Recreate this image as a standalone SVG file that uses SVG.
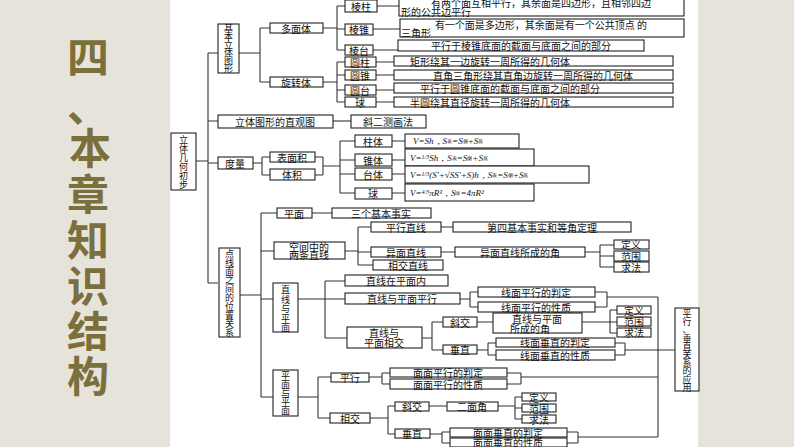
<svg xmlns="http://www.w3.org/2000/svg" width="794" height="447" viewBox="0 0 794 447">
<style>
.b{fill:#fff;stroke:#222;stroke-width:1.1}
.t{font-family:"Noto Sans CJK SC","Liberation Serif",serif;font-size:10px;fill:#111;text-anchor:middle;dominant-baseline:central}
.v{font-family:"Noto Sans CJK SC","Liberation Serif",serif;font-size:9px;fill:#111;text-anchor:middle}
.f{font-family:"Liberation Serif",serif;font-size:9px;fill:#111;font-style:italic;dominant-baseline:central}
.s{font-size:5px;font-style:normal}
.title{font-family:"Noto Sans CJK SC","Liberation Sans",sans-serif;font-size:42px;font-weight:bold;fill:#7b6f3c;text-anchor:middle}
#conn path{fill:none;stroke:#333;stroke-width:1.1}
</style>
<rect width="794" height="447" fill="#fff"/>
<rect x="0" y="0" width="170" height="447" fill="#e6e4da"/>
<rect x="698" y="0" width="96" height="447" fill="#e6e4da"/>
<g id="title">
<text class="title" x="88" y="73">四</text>
<text class="title" x="88" y="122" font-size="30">、</text>
<text class="title" x="90" y="164">本</text>
<text class="title" x="88" y="210">章</text>
<text class="title" x="88" y="256">知</text>
<text class="title" x="88" y="302">识</text>
<text class="title" x="88" y="347">结</text>
<text class="title" x="88" y="392">构</text>
</g>
<g id="conn">
<path d="M196 161H208M208 53V283M208 53H218M208 121H218M208 163H218M208 283H218"/>
<path d="M239 53H260M260 28V82M260 28H270M260 82H270"/>
<path d="M323 28H337M337 6V50M337 6H345M337 29H345M337 50H345"/>
<path d="M377 6H399M373 29H400M373 50H398"/>
<path d="M323 82H337M337 62V102M337 62H345M337 75H345M337 90H345M337 102H345"/>
<path d="M376 62H394M376 75H394M376 90H394M376 102H394"/>
<path d="M333 121H351"/>
<path d="M253 163H262M262 157V175M262 157H270M262 175H270M315 157H323M315 175H323M323 157V175M323 166H340M340 141V193M340 141H355M340 160H355M340 174H355M340 193H355"/>
<path d="M392 141H405M392 160H405M392 174H405M392 193H405"/>
<path d="M240 295H261M261 213V397M261 213H277M261 251H274M261 299H273M261 397H273"/>
<path d="M312 213H332M345 251H358M358 227V265M358 227H371M358 252H371M358 265H373M441 227H453M441 252H455M585 252H600M600 245V267M600 245H614M600 256H614M600 267H614"/>
<path d="M298 299H325M325 281V338M325 281H345M325 299H345M325 338H347"/>
<path d="M460 299H470M470 292V307M470 292H478M470 307H478M595 292H607M595 307H607M607 292V307M607 297H658M658 297V437M658 350H675"/>
<path d="M422 338H432M432 322V350M432 322H443M432 350H443M477 322H493M582 322H610M610 310V333M610 310H617M610 322H617M610 333H617"/>
<path d="M477 350H488M488 343V355M488 343H496M488 355H496M615 343H625M615 355H625M625 343V355M625 350H658"/>
<path d="M298 397H318M318 377V418M318 377H331M318 418H330M369 377H382M382 373V384M382 373H390M382 384H390M507 373H521M507 384H521M521 373V384M521 377H658"/>
<path d="M370 418H388M388 406V434M388 406H395M388 434H395M429 406H447M498 406H515M515 397V419M515 397H522M515 408H522M515 419H522"/>
<path d="M430 434H442M442 432V443M442 432H450M442 443H450M567 432H578M567 443H578M578 432V443M578 437H658"/>
</g>
<g id="root"><rect class="b" x="171" y="133" width="25" height="57"/><text class="v" font-size="8.5"><tspan x="183.5" y="143">立</tspan><tspan x="183.5" dy="9">体</tspan><tspan x="183.5" dy="9">几</tspan><tspan x="183.5" dy="9">何</tspan><tspan x="183.5" dy="9">初</tspan><tspan x="183.5" dy="9">步</tspan></text></g>
<g id="jbltxt"><rect class="b" x="218" y="24" width="21" height="49"/><text class="v" font-size="7.5"><tspan x="228.5" y="32">基</tspan><tspan x="228.5" dy="8">本</tspan><tspan x="228.5" dy="8">立</tspan><tspan x="228.5" dy="8">体</tspan><tspan x="228.5" dy="8">图</tspan><tspan x="228.5" dy="8">形</tspan></text></g>
<g id="dmt"><rect class="b" x="270" y="23" width="53" height="10"/><text class="t" x="296" y="28">多面体</text></g>
<g id="xzt"><rect class="b" x="270" y="77" width="53" height="10"/><text class="t" x="296" y="82">旋转体</text></g>
<g id="lz"><rect class="b" x="345" y="0" width="32" height="12"/><text class="t" x="361" y="6">棱柱</text></g>
<g id="lzh"><rect class="b" x="345" y="24" width="28" height="11"/><text class="t" x="359" y="29.5">棱锥</text></g>
<g id="lt"><rect class="b" x="345" y="45" width="28" height="10"/><text class="t" x="359" y="50">棱台</text></g>
<g id="lzd"><rect class="b" x="399" y="-3" width="285" height="19"/><text class="t" x="541" y="2">有两个面互相平行，其余面是四边形，且相邻四边</text><text class="t" x="436" y="11">形的公共边平行</text></g>
<g id="lzhd"><rect class="b" x="400" y="19" width="284" height="18"/><text class="t" x="541" y="24">有一个面是多边形，其余面是有一个公共顶点 的</text><text class="t" x="416" y="32">三角形</text></g>
<g id="ltd"><rect class="b" x="398" y="40" width="246" height="11"/><text class="t" x="521" y="45.5">平行于棱锥底面的截面与底面之间的部分</text></g>
<g id="yz"><rect class="b" x="345" y="57" width="31" height="10"/><text class="t" x="360" y="62">圆柱</text></g>
<g id="yzh"><rect class="b" x="345" y="70" width="31" height="10"/><text class="t" x="360" y="75">圆锥</text></g>
<g id="yt"><rect class="b" x="345" y="85" width="31" height="10"/><text class="t" x="360" y="90">圆台</text></g>
<g id="q"><rect class="b" x="345" y="97" width="31" height="10"/><text class="t" x="360" y="102">球</text></g>
<g id="yzd"><rect class="b" x="394" y="56" width="279" height="10"/><text class="t" x="490" y="61">矩形绕其一边旋转一周所得的几何体</text></g>
<g id="yzhd"><rect class="b" x="394" y="70" width="279" height="10"/><text class="t" x="533" y="75">直角三角形绕其直角边旋转一周所得的几何体</text></g>
<g id="ytd"><rect class="b" x="394" y="83" width="279" height="10"/><text class="t" x="510" y="88">平行于圆锥底面的截面与底面之间的部分</text></g>
<g id="qd"><rect class="b" x="394" y="97" width="279" height="10"/><text class="t" x="490" y="102">半圆绕其直径旋转一周所得的几何体</text></g>
<g id="zgt"><rect class="b" x="218" y="115" width="115" height="13"/><text class="t" x="275" y="121.5">立体图形的直观图</text></g>
<g id="xec"><rect class="b" x="351" y="115" width="75" height="13"/><text class="t" x="388" y="121.5">斜二测画法</text></g>
<g id="dl"><rect class="b" x="218" y="157" width="35" height="12"/><text class="t" x="235" y="163">度量</text></g>
<g id="bmj"><rect class="b" x="270" y="152" width="45" height="10"/><text class="t" x="292" y="157">表面积</text></g>
<g id="tj"><rect class="b" x="270" y="169" width="45" height="11"/><text class="t" x="292" y="174.5">体积</text></g>
<g id="zt"><rect class="b" x="355" y="135" width="37" height="12"/><text class="t" x="373" y="141">柱体</text></g>
<g id="zht"><rect class="b" x="355" y="154" width="37" height="12"/><text class="t" x="373" y="160">锥体</text></g>
<g id="tt"><rect class="b" x="355" y="168" width="37" height="12"/><text class="t" x="373" y="174">台体</text></g>
<g id="qt"><rect class="b" x="355" y="188" width="37" height="11"/><text class="t" x="373" y="193.5">球</text></g>
<g id="f1"><rect class="b" x="405" y="134" width="114" height="14"/><text class="f" x="413" y="141">V=Sh，S<tspan class="s">表</tspan>=S<tspan class="s">侧</tspan>+S<tspan class="s">底</tspan></text></g>
<g id="f2"><rect class="b" x="405" y="149" width="129" height="17"/><text class="f" x="410" y="158">V=<tspan font-size="6" dy="-1">1/3</tspan><tspan dy="1">Sh，S</tspan><tspan class="s">表</tspan>=S<tspan class="s">侧</tspan>+S<tspan class="s">底</tspan></text></g>
<g id="f3"><rect class="b" x="405" y="166" width="184" height="17"/><text class="f" x="410" y="175">V=<tspan font-size="6" dy="-1">1/3</tspan><tspan dy="1">(S′+√SS′+S)h，S</tspan><tspan class="s">表</tspan>=S<tspan class="s">侧</tspan>+S<tspan class="s">底</tspan></text></g>
<g id="f4"><rect class="b" x="405" y="184" width="129" height="17"/><text class="f" x="410" y="193">V=<tspan font-size="6" dy="-1">4/3</tspan><tspan dy="1">πR³，S</tspan><tspan class="s">球</tspan>=4πR²</text></g>
<g id="dxm"><rect class="b" x="219" y="248" width="21" height="89"/><text class="v" font-size="8"><tspan x="229.5" y="257">点</tspan><tspan x="229.5" dy="8.8">线</tspan><tspan x="229.5" dy="8.8">面</tspan><tspan x="229.5" dy="8.8">之</tspan><tspan x="229.5" dy="8.8">间</tspan><tspan x="229.5" dy="8.8">的</tspan><tspan x="229.5" dy="8.8">位</tspan><tspan x="229.5" dy="8.8">置</tspan><tspan x="229.5" dy="8.8">关</tspan><tspan x="229.5" dy="8.8">系</tspan></text></g>
<g id="pm"><rect class="b" x="277" y="208" width="35" height="10"/><text class="t" x="294" y="213">平面</text></g>
<g id="sgjb"><rect class="b" x="332" y="208" width="99" height="10"/><text class="t" x="381" y="213">三个基本事实</text></g>
<g id="kjz"><rect class="b" x="274" y="242" width="71" height="17"/><text class="t" x="309" y="246.5" font-size="8">空间中的</text><text class="t" x="309" y="254.5" font-size="8">两条直线</text></g>
<g id="pxzx"><rect class="b" x="371" y="222" width="70" height="10"/><text class="t" x="406" y="227">平行直线</text></g>
<g id="dsjb"><rect class="b" x="453" y="222" width="178" height="10"/><text class="t" x="542" y="227">第四基本事实和等角定理</text></g>
<g id="ymzx"><rect class="b" x="371" y="247" width="70" height="10"/><text class="t" x="406" y="252">异面直线</text></g>
<g id="ymj"><rect class="b" x="455" y="247" width="130" height="10"/><text class="t" x="520" y="252">异面直线所成的角</text></g>
<g id="dy1"><rect class="b" x="614" y="240" width="35" height="9"/><text class="t" x="631" y="244.5">定义</text></g>
<g id="fw1"><rect class="b" x="614" y="251" width="35" height="10"/><text class="t" x="631" y="256">范围</text></g>
<g id="qf1"><rect class="b" x="614" y="262" width="35" height="10"/><text class="t" x="631" y="267">求法</text></g>
<g id="xjzx"><rect class="b" x="373" y="260" width="70" height="10"/><text class="t" x="408" y="265">相交直线</text></g>
<g id="zxypm"><rect class="b" x="273" y="283" width="25" height="49"/><text class="v" font-size="9"><tspan x="285.5" y="293">直</tspan><tspan x="285.5" dy="9.5">线</tspan><tspan x="285.5" dy="9.5">与</tspan><tspan x="285.5" dy="9.5">平</tspan><tspan x="285.5" dy="9.5">面</tspan></text></g>
<g id="zxzpmn"><rect class="b" x="345" y="275" width="103" height="11"/><text class="t" x="396" y="280.5">直线在平面内</text></g>
<g id="zxypmpx"><rect class="b" x="345" y="293" width="115" height="11"/><text class="t" x="402" y="298.5">直线与平面平行</text></g>
<g id="xmpxpd"><rect class="b" x="478" y="287" width="117" height="10"/><text class="t" x="536" y="292">线面平行的判定</text></g>
<g id="xmpxxz"><rect class="b" x="478" y="302" width="117" height="10"/><text class="t" x="536" y="307">线面平行的性质</text></g>
<g id="zxypmxj"><rect class="b" x="347" y="327" width="75" height="21"/><text class="t" x="384" y="332.5" font-size="9">直线与</text><text class="t" x="384" y="342" font-size="9">平面相交</text></g>
<g id="xj1"><rect class="b" x="443" y="317" width="34" height="10"/><text class="t" x="460" y="322">斜交</text></g>
<g id="zxpmj"><rect class="b" x="493" y="313" width="89" height="20"/><text class="t" x="537" y="318" font-size="9">直线与平面</text><text class="t" x="530" y="328" font-size="9">所成的角</text></g>
<g id="dy2"><rect class="b" x="617" y="306" width="34" height="8"/><text class="t" x="634" y="310" font-size="8">定义</text></g>
<g id="fw2"><rect class="b" x="617" y="317" width="34" height="9"/><text class="t" x="634" y="321.5" font-size="8.5">范围</text></g>
<g id="qf2"><rect class="b" x="617" y="328" width="34" height="9"/><text class="t" x="634" y="332.5" font-size="8.5">求法</text></g>
<g id="cz1"><rect class="b" x="443" y="345" width="34" height="9"/><text class="t" x="460" y="349.5" font-size="9">垂直</text></g>
<g id="xmczpd"><rect class="b" x="496" y="338" width="119" height="9"/><text class="t" x="555" y="342.5" font-size="9">线面垂直的判定</text></g>
<g id="xmczxz"><rect class="b" x="496" y="350" width="119" height="10"/><text class="t" x="555" y="355">线面垂直的性质</text></g>
<g id="yy"><rect class="b" x="675" y="308" width="24" height="83"/><text class="v" font-size="7.5"><tspan x="687" y="317">平</tspan><tspan x="687" dy="8.2">行</tspan><tspan x="687" dy="8.2">、</tspan><tspan x="687" dy="8.2">垂</tspan><tspan x="687" dy="8.2">直</tspan><tspan x="687" dy="8.2">关</tspan><tspan x="687" dy="8.2">系</tspan><tspan x="687" dy="8.2">的</tspan><tspan x="687" dy="8.2">应</tspan><tspan x="687" dy="8.2">用</tspan></text></g>
<g id="pmypm"><rect class="b" x="273" y="370" width="25" height="46"/><text class="v" font-size="8.5"><tspan x="285.5" y="379">平</tspan><tspan x="285.5" dy="8.8">面</tspan><tspan x="285.5" dy="8.8">与</tspan><tspan x="285.5" dy="8.8">平</tspan><tspan x="285.5" dy="8.8">面</tspan></text></g>
<g id="px2"><rect class="b" x="331" y="373" width="38" height="9"/><text class="t" x="350" y="377.5" font-size="9">平行</text></g>
<g id="mmpxpd"><rect class="b" x="390" y="368" width="117" height="9"/><text class="t" x="448" y="372.5" font-size="9">面面平行的判定</text></g>
<g id="mmpxxz"><rect class="b" x="390" y="379" width="117" height="10"/><text class="t" x="448" y="384">面面平行的性质</text></g>
<g id="xj2"><rect class="b" x="330" y="413" width="40" height="10"/><text class="t" x="350" y="418">相交</text></g>
<g id="xj3"><rect class="b" x="395" y="402" width="34" height="9"/><text class="t" x="412" y="406.5" font-size="9">斜交</text></g>
<g id="emj"><rect class="b" x="447" y="402" width="51" height="9"/><text class="t" x="472" y="406.5" font-size="9">二面角</text></g>
<g id="dy3"><rect class="b" x="522" y="393" width="34" height="8"/><text class="t" x="539" y="397" font-size="8">定义</text></g>
<g id="fw3"><rect class="b" x="522" y="404" width="34" height="8"/><text class="t" x="539" y="408" font-size="8">范围</text></g>
<g id="qf3"><rect class="b" x="522" y="415" width="34" height="8"/><text class="t" x="539" y="419" font-size="8">求法</text></g>
<g id="cz2"><rect class="b" x="395" y="429" width="35" height="9"/><text class="t" x="412" y="433.5" font-size="9">垂直</text></g>
<g id="mmczpd"><rect class="b" x="450" y="428" width="117" height="9"/><text class="t" x="508" y="432.5" font-size="9">面面垂直的判定</text></g>
<g id="mmczxz"><rect class="b" x="450" y="438" width="117" height="9"/><text class="t" x="508" y="442.5" font-size="9">面面垂直的性质</text></g>
</svg>
